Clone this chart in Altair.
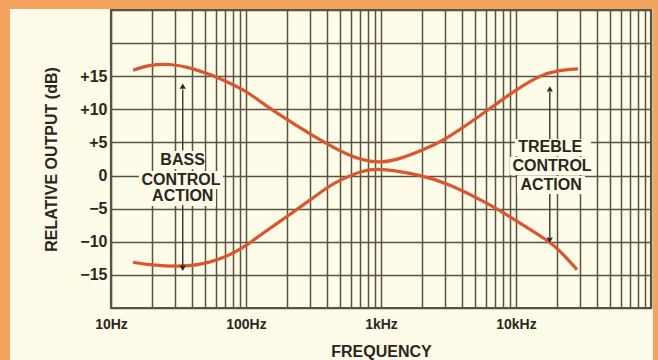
import altair as alt
import pandas as pd

# Tone-control response: maximum boost (bass + treble up) and maximum cut
boost_freq = [14.6, 18.8, 27.4, 38.5, 49.7, 58.9, 98.3, 127, 179, 398, 560, 736,
              1000, 1383, 2046, 2831, 5408, 9840, 15300, 20460, 28770]
boost_db = [15.9, 16.7, 16.9, 16.3, 15.5, 15.0, 12.9, 11.2, 9.1, 4.7, 3.2, 2.3,
            1.9, 2.5, 3.9, 5.1, 9.0, 12.9, 15.2, 15.9, 16.1]

cut_freq = [14.6, 19.4, 34.2, 54.1, 80.2, 101.6, 127, 201, 298, 419, 497, 736,
            984, 1945, 3080, 6210, 9840, 17870, 21540, 28310]
cut_db = [-13.1, -13.5, -13.8, -13.2, -11.8, -10.5, -9.0, -6.2, -3.7, -1.5, -0.7, 0.8,
          1.1, 0.1, -1.1, -4.2, -6.7, -10.0, -11.5, -14.2]

# Axis ticks
decades = [10, 100, 1000, 10000]
decade_names = ["10Hz", "100Hz", "1kHz", "10kHz"]
db_ticks = [-20, -15, -10, -5, 0, 5, 10, 15, 20, 25]

# Annotation text rows (frequency, dB)
note_text = ["BASS", "CONTROL", "ACTION", "TREBLE", "CONTROL", "ACTION"]
note_freq = [33.9, 33.0, 34.0, 17900, 18500, 18200]
note_db = [2.35, -0.67, -3.16, 4.31, 1.44, -1.43]

# Knock-out boxes behind the annotation text
box_f1 = [23.1, 16.1, 19.1, 9840, 9030, 10200]
box_f2 = [49.7, 67.6, 59.9, 36000, 37800, 32400]
box_d1 = [3.71, 0.69, -1.88, 5.52, 2.8, -0.07]
box_d2 = [0.99, -2.03, -4.6, 2.95, 0.08, -2.8]

# Arrows pointing at the curves
arrow_freq = [34, 34, 17800, 17800]
arrow_from = [3.8, -4.5, 5.5, -2.8]
arrow_to = [13.0, -13.6, 12.6, -9.3]
head_db = [13.5, -14.0, 13.1, -9.75]
head_shape = ["triangle-up", "triangle-down", "triangle-up", "triangle-down"]

CREAM = "#FEFCE9"
ORANGE = "#F3A55F"
GRID = "#5A5242"
INK = "#2A2620"
CURVE = "#DA562C"
FONT = "Liberation Sans, Arial, sans-serif"

grid_freqs = [m * d for d in decades for m in range(1, 10)] + [100000]
label_expr = " : ".join(
    f"datum.value == {d} ? '{n}'" for d, n in zip(decades, decade_names)
) + " : ''"

x_scale = alt.Scale(type="log", domain=[10, 100000], nice=False)
y_scale = alt.Scale(domain=[-20, 25], nice=False, zero=False)

x_axis = alt.Axis(
    values=grid_freqs, labelExpr=label_expr, grid=True, gridColor=GRID,
    gridWidth=1.5, gridOpacity=1, ticks=False, domain=False, labelOverlap=False,
    labelFlush=False, labelAngle=0, labelFont=FONT, labelFontSize=14,
    labelFontWeight="bold", labelColor=INK, labelPadding=9,
    title="FREQUENCY", titleFont=FONT, titleFontSize=16, titleFontWeight="bold",
    titleColor=INK, titlePadding=12,
)
y_axis = alt.Axis(
    values=db_ticks,
    labelExpr="datum.value > 15 || datum.value < -15 ? '' : datum.value > 0 ? '+' + datum.value : datum.value < 0 ? '\u2212' + abs(datum.value) : '0'",
    grid=True, gridColor=GRID, gridWidth=1.5, gridOpacity=1, ticks=False,
    domain=False, labelOverlap=False, labelFlush=False, labelFont=FONT,
    labelFontSize=16, labelFontWeight="bold", labelColor=INK, labelPadding=4,
    title="RELATIVE OUTPUT (dB)", titleFont=FONT, titleFontSize=16,
    titleFontWeight="bold", titleColor=INK, titlePadding=20,
)

curves = pd.concat([
    pd.DataFrame({"f": boost_freq, "db": boost_db, "curve": "boost"}),
    pd.DataFrame({"f": cut_freq, "db": cut_db, "curve": "cut"}),
])
notes = pd.DataFrame({"text": note_text, "f": note_freq, "db": note_db})
boxes = pd.DataFrame({"f1": box_f1, "f2": box_f2, "d1": box_d1, "d2": box_d2})
arrows = pd.DataFrame({"f": arrow_freq, "a": arrow_from, "b": arrow_to,
                       "h": head_db, "shape": head_shape})


# Every layer shares the same scales and axis definitions
def fx(field):
    return alt.X(field, scale=x_scale, axis=x_axis)


def fy(field):
    return alt.Y(field, scale=y_scale, axis=y_axis)


lines = alt.Chart(curves).mark_line(
    color=CURVE, strokeWidth=3.2, interpolate="basis"
).encode(x=fx("f:Q"), y=fy("db:Q"), detail="curve:N")

box_layer = alt.Chart(boxes).mark_rect(color=CREAM).encode(
    x=fx("f1:Q"), x2="f2:Q", y=fy("d1:Q"), y2="d2:Q",
)

text_layer = alt.Chart(notes).mark_text(
    font=FONT, fontSize=16, fontWeight="bold", color=INK, baseline="middle"
).encode(x=fx("f:Q"), y=fy("db:Q"), text="text:N")

shafts = alt.Chart(arrows).mark_rule(color=INK, strokeWidth=1.3).encode(
    x=fx("f:Q"), y=fy("a:Q"), y2="b:Q"
)
heads = alt.Chart(arrows).mark_point(
    filled=True, color=INK, size=38, opacity=1
).encode(
    x=fx("f:Q"), y=fy("h:Q"), shape=alt.Shape("shape:N", scale=None),
)

# Orange page border around the cream sheet
border = alt.Chart(pd.DataFrame({"k": [0, 1, 2]})).mark_rect(color=ORANGE)
left_strip = border.transform_filter("datum.k == 0").encode(
    x=alt.value(-111), x2=alt.value(-101), y=alt.value(-10), y2=alt.value(350))
top_strip = border.transform_filter("datum.k == 1").encode(
    x=alt.value(-111), x2=alt.value(547), y=alt.value(-10), y2=alt.value(-1))
right_strip = border.transform_filter("datum.k == 2").encode(
    x=alt.value(542), x2=alt.value(547), y=alt.value(-10), y2=alt.value(350))

chart = alt.layer(
    lines, box_layer, text_layer, shafts, heads, left_strip, top_strip, right_strip
).properties(
    width=540, height=298,
    autosize=alt.AutoSizeParams(type="none"),
    padding={"left": 111, "top": 10, "right": 7, "bottom": 52},
    background=CREAM,
).configure_view(
    fill=CREAM, stroke=GRID, strokeWidth=2.2
)

chart.save("out.html", embed_options={"renderer": "svg", "actions": False})
